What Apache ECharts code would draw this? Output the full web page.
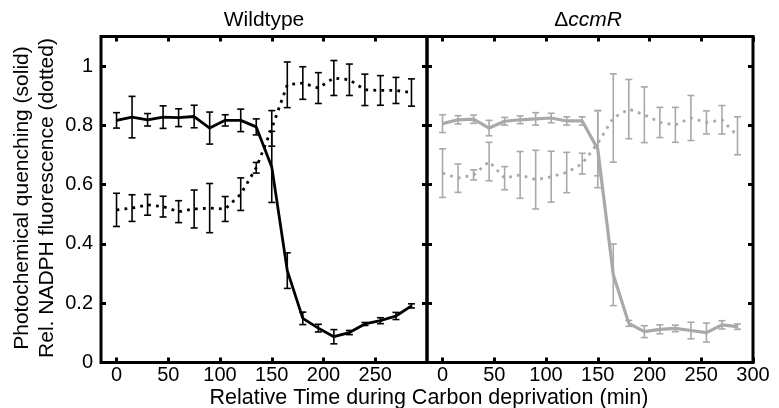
<!DOCTYPE html>
<html>
<head>
<meta charset="utf-8">
<script src="https://cdn.jsdelivr.net/npm/echarts@6/dist/echarts.min.js"></script>
<style>html,body{margin:0;padding:0;background:#fff}#c{width:779px;height:408px}</style>
</head>
<body>
<div id="c"></div>
<script>
const times = [0,15,30,45,60,75,90,105,120,135,150,165,180,195,210,225,240,255,270,285];
const wtSolid    = [0.817,0.828,0.819,0.828,0.826,0.830,0.791,0.817,0.817,0.795,0.66,0.31,0.149,0.116,0.087,0.101,0.130,0.141,0.157,0.191];
const wtSolidErr = [0.026,0.070,0.021,0.038,0.030,0.038,0.054,0.019,0.038,0.027,0.12,0.060,0.021,0.013,0.024,0.007,0.005,0.010,0.012,0.007];
const wtDotted    = [0.515,0.521,0.532,0.526,0.509,0.518,0.521,0.518,0.568,0.657,0.79,0.937,0.943,0.926,0.960,0.954,0.920,0.918,0.918,0.911];
const wtDottedErr = [0.056,0.045,0.035,0.035,0.037,0.064,0.083,0.042,0.055,0.018,0.06,0.077,0.055,0.052,0.059,0.053,0.053,0.050,0.044,0.046];
const koSolid    = [0.806,0.819,0.821,0.791,0.814,0.819,0.822,0.825,0.815,0.815,0.72,0.296,0.132,0.104,0.112,0.115,0.108,0.101,0.127,0.121];
const koSolidErr = [0.030,0.014,0.014,0.026,0.013,0.013,0.021,0.016,0.014,0.014,0.13,0.104,0.010,0.020,0.015,0.011,0.028,0.032,0.014,0.009];
const koDotted    = [0.639,0.622,0.633,0.678,0.622,0.633,0.617,0.627,0.641,0.671,0.74,0.825,0.855,0.836,0.810,0.802,0.825,0.810,0.819,0.765];
const koDottedErr = [0.082,0.048,0.017,0.065,0.039,0.079,0.099,0.086,0.068,0.035,0.11,0.149,0.100,0.094,0.051,0.059,0.076,0.039,0.048,0.064];
const xTicksLeft = [0,50,100,150,200,250];
const xTicksRight = [0,50,100,150,200,250,300];
const yTicks = [0,0.2,0.4,0.6,0.8,1];
const panelTitles = ['Wildtype','ΔccmR'];
const yLabelLines = ['Photochemical quenching (solid)','Rel. NADPH fluorescence (dotted)'];
const xLabel = 'Relative Time during Carbon deprivation (min)';

const BLACK = '#000';
const GREY = '#a9a9a9';
const FONT = 'Liberation Sans, Arial, sans-serif';

const chart = echarts.init(document.getElementById('c'), null, {renderer:'canvas'});

const gridL = 101, gridTop = 36.5, gridW = 326, gridH = 326;

function xAxes(gi, labels, pos, showLabels) {
  return {
    type:'value', gridIndex:gi, min:-15, max:300, position:pos,
    axisLine:{show:false, onZero:false},
    axisTick:{show:true, inside:true, length:5, lineStyle:{color:BLACK,width:3}, customValues: labels},
    axisLabel:{show:showLabels, customValues: labels, color:BLACK, fontSize:20, fontFamily:FONT, margin:3},
    splitLine:{show:false}
  };
}
function yAxes(gi, pos, showLabels) {
  return {
    type:'value', gridIndex:gi, min:0, max:1.1, position:pos,
    axisLine:{show:false, onZero:false},
    axisTick:{show:true, inside:true, length:5, lineStyle:{color:BLACK,width:3}, customValues: yTicks},
    axisLabel:{show:showLabels, customValues: yTicks, color:BLACK, fontSize:20, fontFamily:FONT, margin:8,
      formatter: v => String(+v.toFixed(1))},
    splitLine:{show:false}
  };
}

function errData(vals, errs) {
  return times.map((t,i)=>[t, vals[i]-errs[i], vals[i]+errs[i]]);
}
function errSeries(xi, yi, vals, errs, color) {
  return {
    type:'custom', xAxisIndex:xi, yAxisIndex:yi, z:3,
    data: errData(vals, errs),
    renderItem: function(params, api) {
      const x = api.value(0);
      const lo = api.coord([x, api.value(1)]);
      const hi = api.coord([x, api.value(2)]);
      const cw = 3.5;
      const st = {stroke: color, lineWidth: 1.6, fill:null};
      return {type:'group', children:[
        {type:'line', shape:{x1:lo[0], y1:lo[1], x2:hi[0], y2:hi[1]}, style:st},
        {type:'line', shape:{x1:lo[0]-cw, y1:lo[1], x2:lo[0]+cw, y2:lo[1]}, style:st},
        {type:'line', shape:{x1:hi[0]-cw, y1:hi[1], x2:hi[0]+cw, y2:hi[1]}, style:st}
      ]};
    }
  };
}
function lineSeries(xi, yi, vals, color, dotted, width) {
  return {
    type:'line', xAxisIndex:xi, yAxisIndex:yi, z:4,
    data: times.map((t,i)=>[t, vals[i]]),
    symbol:'none', silent:true, animation:false,
    lineStyle: dotted ? {color, width:2.8, type:[2.8,5.2], cap:'butt'} : {color, width:width}
  };
}

const option = {
  animation:false,
  grid:[
    {left:gridL, top:gridTop, width:gridW, height:gridH, show:true, borderColor:BLACK, borderWidth:3, backgroundColor:'transparent'},
    {left:gridL+gridW, top:gridTop, width:gridW, height:gridH, show:true, borderColor:BLACK, borderWidth:3, backgroundColor:'transparent'}
  ],
  xAxis:[
    xAxes(0, xTicksLeft, 'bottom', true),
    xAxes(0, xTicksLeft, 'top', false),
    xAxes(1, xTicksRight, 'bottom', true),
    xAxes(1, xTicksRight, 'top', false)
  ],
  yAxis:[
    yAxes(0, 'left', true),
    yAxes(0, 'right', false),
    yAxes(1, 'left', false),
    yAxes(1, 'right', false)
  ],
  series:[
    errSeries(0,0,wtDotted,wtDottedErr,BLACK),
    lineSeries(0,0,wtDotted,BLACK,true),
    errSeries(0,0,wtSolid,wtSolidErr,BLACK),
    lineSeries(0,0,wtSolid,BLACK,false,2.8),
    errSeries(2,2,koDotted,koDottedErr,GREY),
    lineSeries(2,2,koDotted,GREY,true),
    errSeries(2,2,koSolid,koSolidErr,GREY),
    lineSeries(2,2,koSolid,GREY,false,3.2)
  ],
  graphic:[
    {type:'text', x:264, y:20, style:{text:panelTitles[0], font:'21px '+FONT, fill:BLACK, align:'center', verticalAlign:'middle'}},
    {type:'text', x:588, y:20, style:{
      text:'{a|'+panelTitles[1].charAt(0)+'}{b|'+panelTitles[1].slice(1)+'}',
      align:'center', verticalAlign:'middle', fill:BLACK,
      rich:{a:{fontSize:21, fontFamily:FONT, fill:BLACK}, b:{fontSize:21, fontFamily:FONT, fontStyle:'italic', fill:BLACK}}
    }},
    {type:'text', x:22, y:198, rotation:Math.PI/2, style:{text:yLabelLines[0], font:'21px '+FONT, fill:BLACK, align:'center', verticalAlign:'middle'}},
    {type:'text', x:47, y:198, rotation:Math.PI/2, style:{text:yLabelLines[1], font:'21px '+FONT, fill:BLACK, align:'center', verticalAlign:'middle'}},
    {type:'text', x:429, y:398, style:{text:xLabel, font:'21.5px '+FONT, fill:BLACK, align:'center', verticalAlign:'middle'}}
  ]
};
chart.setOption(option);
</script>
</body>
</html>
